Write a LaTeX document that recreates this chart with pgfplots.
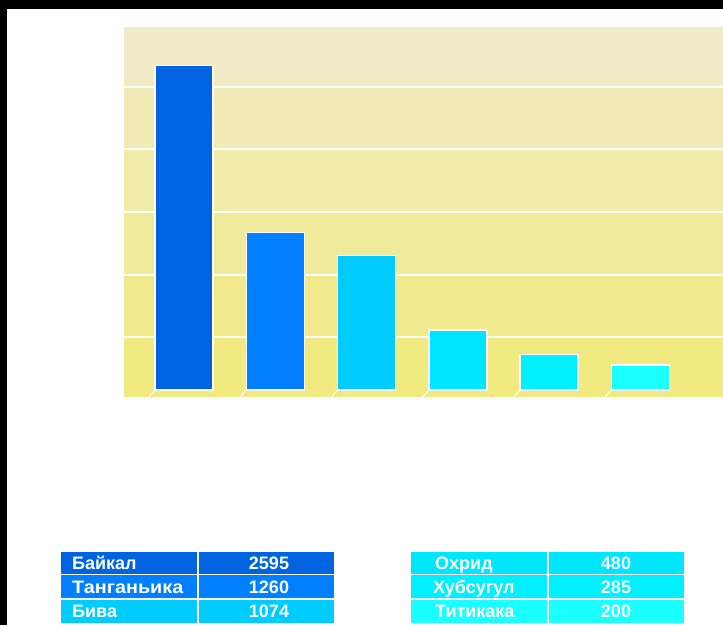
\documentclass[border=0pt]{standalone}
\usepackage{pgfplots}
\pgfplotsset{compat=1.18}
\usepackage{fontspec}
\setmainfont{Liberation Sans}
\definecolor{c1}{RGB}{0,100,225}
\definecolor{c2}{RGB}{0,128,255}
\definecolor{c3}{RGB}{0,204,255}
\definecolor{c4}{RGB}{0,230,255}
\definecolor{c5}{RGB}{0,240,255}
\definecolor{c6}{RGB}{26,255,255}
\definecolor{b1}{RGB}{240,234,128}
\definecolor{b2}{RGB}{240,234,141}
\definecolor{b3}{RGB}{240,235,155}
\definecolor{b4}{RGB}{240,235,169}
\definecolor{b5}{RGB}{240,235,182}
\definecolor{b6}{RGB}{240,235,196}
\begin{document}
\begin{tikzpicture}[x=1pt,y=1pt]
\path[use as bounding box] (0,0) rectangle (723,625);
\fill[black] (0,616) rectangle (723,625);
\fill[black] (0,0) rectangle (6.5,625);
\begin{axis}[at={(124pt,228pt)}, anchor=south west, scale only axis,
  width=599pt, height=370pt, xmin=-0.657, xmax=5.904, ymin=-56, ymax=2904,
  axis lines=none, clip=false]
\addplot[fill=b1, draw=none] coordinates {(-0.657,-56) (5.904,-56) (5.904,416) (-0.657,416)} -- cycle;
\addplot[fill=b2, draw=none] coordinates {(-0.657,432) (5.904,432) (5.904,916) (-0.657,916)} -- cycle;
\addplot[fill=b3, draw=none] coordinates {(-0.657,932) (5.904,932) (5.904,1416) (-0.657,1416)} -- cycle;
\addplot[fill=b4, draw=none] coordinates {(-0.657,1432) (5.904,1432) (5.904,1916) (-0.657,1916)} -- cycle;
\addplot[fill=b5, draw=none] coordinates {(-0.657,1932) (5.904,1932) (5.904,2416) (-0.657,2416)} -- cycle;
\addplot[fill=b6, draw=none] coordinates {(-0.657,2432) (5.904,2432) (5.904,2904) (-0.657,2904)} -- cycle;
\addplot[white, line width=1pt] coordinates {(-0.385,-56) (-0.318,0)};
\addplot[white, line width=1pt] coordinates {(0.615,-56) (0.682,0)};
\addplot[white, line width=1pt] coordinates {(1.615,-56) (1.682,0)};
\addplot[white, line width=1pt] coordinates {(2.615,-56) (2.682,0)};
\addplot[white, line width=1pt] coordinates {(3.615,-56) (3.682,0)};
\addplot[white, line width=1pt] coordinates {(4.615,-56) (4.682,0)};
\addplot[ybar, bar width=58pt, bar shift=0pt, fill=c1, draw=white, line width=1.5pt] coordinates {(0,2595)};
\addplot[ybar, bar width=58pt, bar shift=0pt, fill=c2, draw=white, line width=1.5pt] coordinates {(1,1260)};
\addplot[ybar, bar width=58pt, bar shift=0pt, fill=c3, draw=white, line width=1.5pt] coordinates {(2,1074)};
\addplot[ybar, bar width=58pt, bar shift=0pt, fill=c4, draw=white, line width=1.5pt] coordinates {(3,480)};
\addplot[ybar, bar width=58pt, bar shift=0pt, fill=c5, draw=white, line width=1.5pt] coordinates {(4,285)};
\addplot[ybar, bar width=58pt, bar shift=0pt, fill=c6, draw=white, line width=1.5pt] coordinates {(5,200)};
\end{axis}
% data table
\tikzset{cell/.style={draw=white, line width=1.5pt}, lab/.style={text=white, font=\bfseries\fontsize{18}{18}\selectfont, inner sep=0pt}}
\draw[cell, fill=c1] (60,50.5) rectangle (198,74);
\draw[cell, fill=c1] (198,50.5) rectangle (335,74);
\draw[cell, fill=c2] (60,26) rectangle (198,50.5);
\draw[cell, fill=c2] (198,26) rectangle (335,50.5);
\draw[cell, fill=c3] (60,1) rectangle (198,26);
\draw[cell, fill=c3] (198,1) rectangle (335,26);
\draw[cell, fill=c4] (410,50.5) rectangle (548,74);
\draw[cell, fill=c4] (548,50.5) rectangle (685,74);
\draw[cell, fill=c5] (410,26) rectangle (548,50.5);
\draw[cell, fill=c5] (548,26) rectangle (685,50.5);
\draw[cell, fill=c6] (410,1) rectangle (548,26);
\draw[cell, fill=c6] (548,1) rectangle (685,26);
\node[lab, anchor=west] at (72,62) {Байкал};
\node[lab, anchor=west, xscale=1.1] at (72,38) {Танганьика};
\node[lab, anchor=west] at (72,13.5) {Бива};
\node[lab] at (269,62) {2595};
\node[lab] at (269,38) {1260};
\node[lab] at (269,13.5) {1074};
\node[lab, anchor=base west] at (435,56) {Охрид};
\node[lab, anchor=base west] at (433,32) {Хубсугул};
\node[lab, anchor=base west] at (435,7.5) {Титикака};
\node[lab] at (616,62) {480};
\node[lab] at (616,38) {285};
\node[lab] at (616,13.5) {200};
\end{tikzpicture}
\end{document}
